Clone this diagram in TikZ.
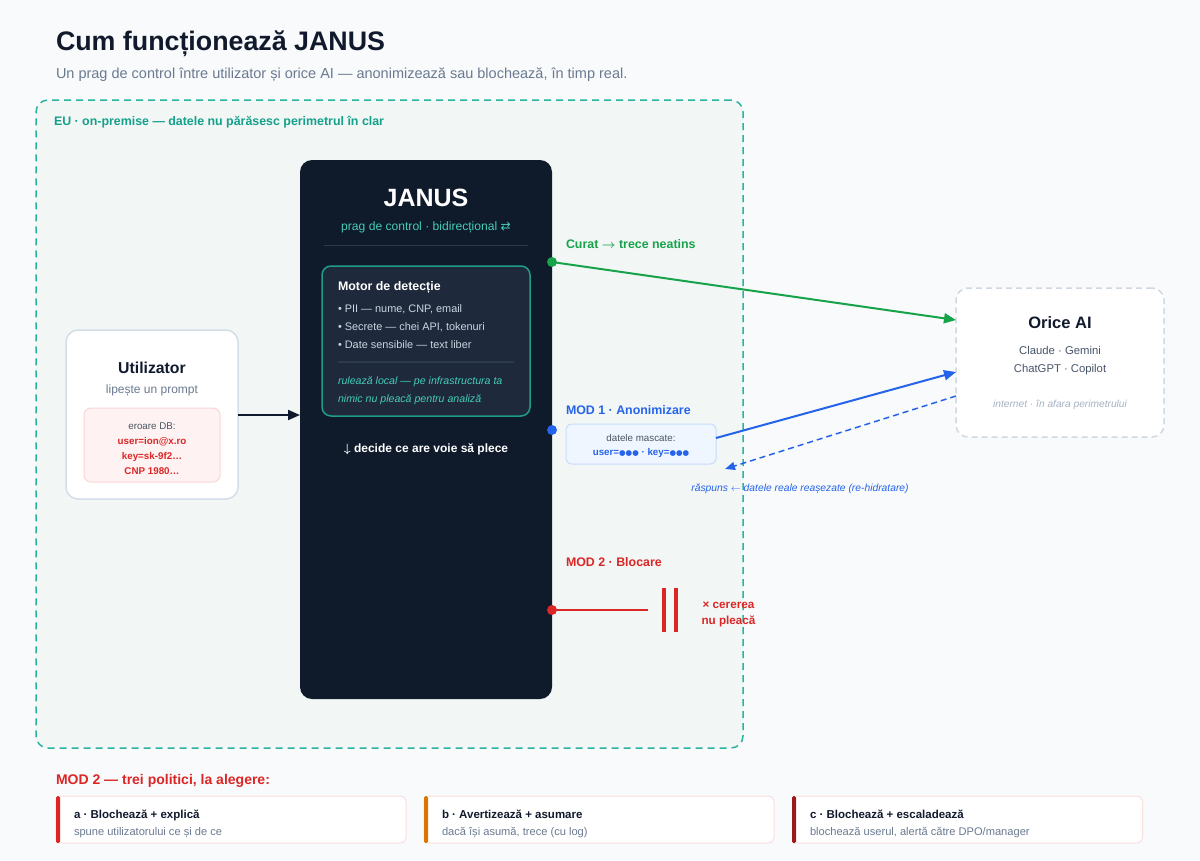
\documentclass[tikz,border=0pt]{standalone}
\usepackage{fontspec}
\setmainfont{Liberation Sans}
\newfontfamily\symf{DejaVu Sans}
\usetikzlibrary{arrows.meta}
\definecolor{bgc}{HTML}{F8FAFB}
\definecolor{perimfill}{HTML}{F2F7F6}
\definecolor{teal}{HTML}{2BB3A0}
\definecolor{tealtxt}{HTML}{14A08A}
\definecolor{tealsoft}{HTML}{45CDBA}
\definecolor{navy}{HTML}{0F1A2B}
\definecolor{slate}{HTML}{1E293B}
\definecolor{motorbd}{HTML}{1F9C8A}
\definecolor{sepc}{HTML}{2C3A4D}
\definecolor{ink}{HTML}{111A2C}
\definecolor{greyt}{HTML}{6B7A90}
\definecolor{greyd}{HTML}{4B5563}
\definecolor{lightt}{HTML}{CBD5E1}
\definecolor{boxbd}{HTML}{D3DEE8}
\definecolor{pinkf}{HTML}{FEF2F2}
\definecolor{pinkb}{HTML}{FDD5D5}
\definecolor{redc}{HTML}{DC2626}
\definecolor{darkred}{HTML}{991B1B}
\definecolor{orangec}{HTML}{D97706}
\definecolor{greenc}{HTML}{16A34A}
\definecolor{bluec}{HTML}{2563EB}
\definecolor{bluef}{HTML}{EFF6FF}
\definecolor{blueb}{HTML}{C7DCFB}
\definecolor{aibd}{HTML}{D0D8E2}
\definecolor{aitxt}{HTML}{475569}
\definecolor{aifaint}{HTML}{A7B2C2}
\definecolor{cardbd}{HTML}{FBE0E0}
\newcommand{\fsz}[1]{\fontsize{#1}{#1}\selectfont}
\begin{document}
\begin{tikzpicture}[x=1pt,y=-1pt,
  every node/.style={inner sep=0pt, outer sep=0pt},
  lbl/.style={anchor=base west},
  clbl/.style={anchor=base},
  panel/.style={rectangle, rounded corners=#1},
  dotn/.style={circle, minimum size=10pt, fill=#1},
  arr/.style={-{Triangle[length=12pt,width=10pt]}, line width=2pt},
  card/.style={rectangle, rounded corners=6pt, draw=cardbd, line width=1pt, fill=white, minimum width=350pt, minimum height=47pt}
]
\useasboundingbox (0,0) rectangle (1200,860);
\fill[bgc] (0,0) rectangle (1200,860);

% title
\node[lbl, font=\fsz{26.8}\bfseries, text=ink] (title) at (56,50) {Cum funcționează JANUS};
\node[lbl, font=\fsz{14.5}, text=greyt] (subtitle) at (56,78) {Un prag de control între utilizator și orice AI — anonimizează sau blochează, în timp real.};

% perimeter
\node[panel=12pt, draw=teal, fill=perimfill, dash pattern=on 7pt off 5pt, line width=1.5pt, minimum width=707pt, minimum height=648pt] (perim) at (389.5,424) {};
\node[lbl, font=\fsz{12.4}\bfseries, text=tealtxt] (perimlbl) at (54,125) {EU · on-premise — datele nu părăsesc perimetrul în clar};

% user
\node[panel=12pt, draw=boxbd, fill=white, line width=1.5pt, minimum width=172pt, minimum height=169pt] (user) at (152,414.5) {};
\node[clbl, font=\fsz{15.8}\bfseries, text=ink] (usert) at (152,373) {Utilizator};
\node[clbl, font=\fsz{12}, text=greyt] (users) at (152,393) {lipește un prompt};
\node[panel=7pt, draw=pinkb, fill=pinkf, line width=1pt, minimum width=136pt, minimum height=74pt] (pink) at (152,445) {};
\node[clbl, font=\fsz{9.8}, text=greyd] (err) at (152,429) {eroare DB:};
\node[clbl, font=\fsz{9.8}\bfseries, text=redc] (err1) at (152,444) {user=ion@x.ro};
\node[clbl, font=\fsz{9.8}\bfseries, text=redc] (err2) at (152,459) {key=sk-9f2…};
\node[clbl, font=\fsz{9.8}\bfseries, text=redc] (err3) at (152,474) {CNP 1980…};

% janus
\node[panel=12pt, fill=navy, minimum width=252pt, minimum height=539pt] (janus) at (426,429.5) {};
\node[clbl, font=\fsz{25}\bfseries, text=white] (janust) at (426,206) {JANUS};
\node[clbl, font=\fsz{12.1}, text=tealsoft] (januss) at (426,230) {prag de control · bidirecțional {\symf ⇄}};
\draw[sepc, line width=1.5pt] (324,245.5) -- (528,245.5);
\node[panel=9pt, draw=motorbd, fill=slate, line width=1.5pt, minimum width=208pt, minimum height=150pt] (motor) at (426,341) {};
\node[lbl, font=\fsz{12.4}\bfseries, text=white] (motort) at (338,290) {Motor de detecție};
\node[lbl, font=\fsz{10.9}, text=lightt] (b1) at (338,312) {• PII — nume, CNP, email};
\node[lbl, font=\fsz{10.9}, text=lightt] (b2) at (338,330) {• Secrete — chei API, tokenuri};
\node[lbl, font=\fsz{10.9}, text=lightt] (b3) at (338,348) {• Date sensibile — text liber};
\draw[sepc, line width=1.2pt] (338,362) -- (514,362);
\node[lbl, font=\fsz{10.6}\itshape, text=tealsoft] (i1) at (338,384) {rulează local — pe infrastructura ta};
\node[lbl, font=\fsz{10.6}\itshape, text=tealsoft] (i2) at (338,402) {nimic nu pleacă pentru analiză};
\node[clbl, font=\fsz{12}\bfseries, text=white] (decide) at (426,452) {{\boldmath$\downarrow$} decide ce are voie să plece};

% user -> janus
\draw[arr, ink] (user.east |- 0,415) -- (janus.west |- 0,415);

% AI box
\node[panel=12pt, draw=aibd, fill=white, dash pattern=on 6pt off 4pt, line width=1.5pt, minimum width=208pt, minimum height=149pt] (ai) at (1060,362.5) {};
\node[clbl, font=\fsz{16.5}\bfseries, text=ink] (ait) at (1060,328) {Orice AI};
\node[clbl, font=\fsz{11.3}, text=aitxt] (ai1) at (1060,354) {Claude · Gemini};
\node[clbl, font=\fsz{11.3}, text=aitxt] (ai2) at (1060,372) {ChatGPT · Copilot};
\node[clbl, font=\fsz{10.2}\itshape, text=aifaint] (ai3) at (1060,407.5) {internet · în afara perimetrului};

% dots
\node[dotn=greenc] (dg) at (552,262) {};
\node[dotn=bluec] (db) at (552,430) {};
\node[dotn=redc] (dr) at (552,610) {};

% clean path
\node[lbl, font=\fsz{12.4}\bfseries, text=greenc] (curat) at (566,248) {Curat {\boldmath$\rightarrow$} trece neatins};
\coordinate (aiG) at (956,320);
\draw[arr, greenc] (dg.center) -- (aiG);

% mode 1
\node[lbl, font=\fsz{12.4}\bfseries, text=bluec] (mod1) at (566,414) {MOD 1 · Anonimizare};
\node[panel=6pt, draw=blueb, fill=bluef, line width=1pt, minimum width=150pt, minimum height=40pt] (mask) at (641,444) {};
\node[clbl, font=\fsz{9.8}, text=greyd] (maskt) at (641,441) {datele mascate:};
\node[clbl, font=\fsz{9.8}\bfseries, text=bluec] (maskv) at (641,455.5) {user={\symf\fsz{7.5}●●●} · key={\symf\fsz{7.5}●●●}};
\coordinate (aiB) at (956,372);
\draw[arr, bluec] ([yshift=6pt]mask.east) -- (aiB);
\coordinate (aiR) at (956,396);
\coordinate (ret) at (725,469);
\draw[bluec, line width=1.5pt, dash pattern=on 6pt off 4pt, -{Triangle[length=10pt,width=8pt]}] (aiR) -- (ret);
\node[clbl, font=\fsz{10.3}\itshape, text=bluec] (retl) at (800,491) {răspuns $\leftarrow$ datele reale reașezate (re-hidratare)};

% mode 2
\node[lbl, font=\fsz{12.4}\bfseries, text=redc] (mod2) at (566,566) {MOD 2 · Blocare};
\node[fill=redc, minimum width=4pt, minimum height=44pt] (bar1) at (664,610) {};
\node[fill=redc, minimum width=4pt, minimum height=44pt] (bar2) at (676,610) {};
\coordinate (stop) at (648,610);
\draw[redc, line width=2pt] (dr.center) -- (stop);
\node[clbl, font=\fsz{11.7}\bfseries, text=redc] (x1) at (728.5,608) {× cererea};
\node[clbl, font=\fsz{11.7}\bfseries, text=redc] (x2) at (728.5,624) {nu pleacă};

% bottom policies
\node[lbl, font=\fsz{14}\bfseries, text=redc] (pol) at (56,784) {MOD 2 — trei politici, la alegere:};
\node[card] (ca) at (231,819.5) {};
\node[card] (cb) at (599,819.5) {};
\node[card] (cc) at (967.5,819.5) {};
\fill[redc, rounded corners=1.5pt] (56,796) rectangle (60,843);
\fill[orangec, rounded corners=1.5pt] (424,796) rectangle (428,843);
\fill[darkred, rounded corners=1.5pt] (792,796) rectangle (796,843);
\node[lbl, font=\fsz{11.5}\bfseries, text=ink] (cat) at (74,818) {a · Blochează + explică};
\node[lbl, font=\fsz{11.1}, text=greyt] (cas) at (74,835) {spune utilizatorului ce și de ce};
\node[lbl, font=\fsz{11.5}\bfseries, text=ink] (cbt) at (442,818) {b · Avertizează + asumare};
\node[lbl, font=\fsz{11.1}, text=greyt] (cbs) at (442,835) {dacă își asumă, trece (cu log)};
\node[lbl, font=\fsz{11.5}\bfseries, text=ink] (cct) at (810,818) {c · Blochează + escaladează};
\node[lbl, font=\fsz{11.1}, text=greyt] (ccs) at (810,835) {blochează userul, alertă către DPO/manager};
\end{tikzpicture}
\end{document}
